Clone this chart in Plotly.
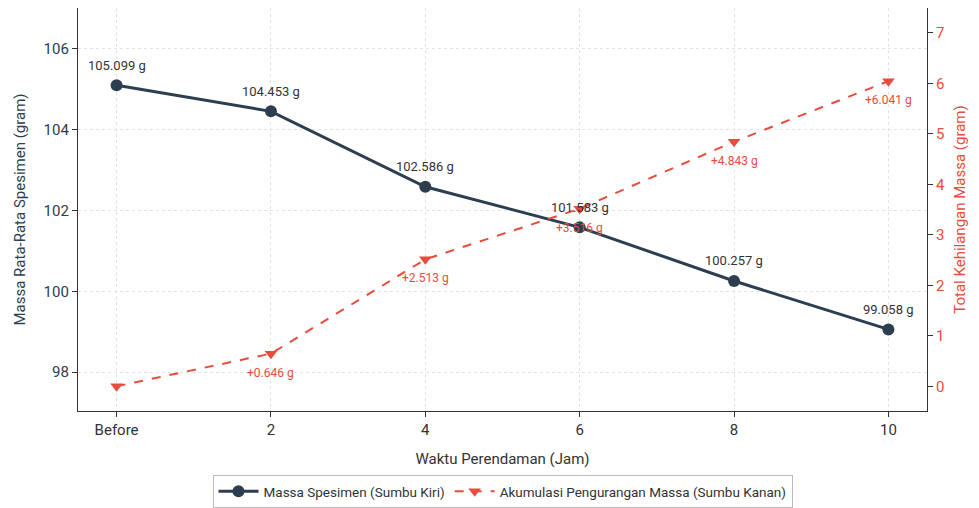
import plotly.graph_objects as go

categories = ["Before", "2", "4", "6", "8", "10"]
mass = [105.099, 104.453, 102.586, 101.583, 100.257, 99.058]
loss = [0.0, 0.646, 2.513, 3.516, 4.843, 6.041]

NAVY = "#2C3E50"
RED = "#E74C3C"
FONT = "Roboto, Noto Sans, sans-serif"
xs = list(range(len(categories)))

fig = go.Figure()
fig.add_trace(go.Scatter(
    x=xs, y=mass, mode="lines+markers", name="Massa Spesimen (Sumbu Kiri)",
    line=dict(color=NAVY, width=3), marker=dict(symbol="circle", size=12, color=NAVY),
    yaxis="y"))
fig.add_trace(go.Scatter(
    x=xs, y=loss, mode="lines+markers", name="Akumulasi Pengurangan Massa (Sumbu Kanan)",
    line=dict(color=RED, width=2, dash="dash"), marker=dict(symbol="triangle-down", size=11, color=RED),
    yaxis="y2"))

for i, v in enumerate(mass):
    fig.add_annotation(x=xs[i], y=v, xref="x", yref="y", text=f"{v:.3f} g", showarrow=False,
                       yshift=20, font=dict(size=13, color="#333333", family=FONT))
for i, v in enumerate(loss):
    if i == 0:
        continue
    fig.add_annotation(x=xs[i], y=v, xref="x", yref="y2", text=f"+{v:.3f} g", showarrow=False,
                       yshift=-19, font=dict(size=12, color=RED, family=FONT))

grid = dict(showgrid=True, gridcolor="#E3E3E3", griddash="dot", gridwidth=1)
fig.update_layout(
    width=971, height=500, margin=dict(l=70, r=52, t=0, b=96),
    paper_bgcolor="white", plot_bgcolor="white",
    font=dict(family=FONT, size=15, color="#333333"),
    xaxis=dict(tickmode="array", tickvals=xs, ticktext=categories, range=[-0.25, 5.25],
               title=dict(text="Waktu Perendaman (Jam)", font=dict(size=15, color="#333333"), standoff=15),
               tickfont=dict(size=15),
               showline=True, linecolor="#333333", linewidth=1.2, mirror=True, automargin=False,
               ticks="outside", ticklen=5, tickcolor="#333333", zeroline=False, **grid),
    yaxis=dict(range=[97.04, 107.01], tickvals=[98, 100, 102, 104, 106],
               title=dict(text="Massa Rata-Rata Spesimen (gram)", font=dict(size=15, color=NAVY), standoff=14),
               tickfont=dict(color=NAVY, size=15), automargin=False,
               showline=True, linecolor="#333333", linewidth=1.2, mirror=True,
               ticks="outside", ticklen=5, tickcolor="#333333", zeroline=False, **grid),
    yaxis2=dict(range=[-0.49, 7.49], tickvals=list(range(0, 8)), overlaying="y", side="right",
                title=dict(text="Total Kehilangan Massa (gram)", font=dict(size=15, color=RED), standoff=10),
                tickfont=dict(color=RED, size=15), showgrid=False, zeroline=False, automargin=False,
                showline=True, linecolor="#333333", linewidth=1.2,
                ticks="outside", ticklen=5, tickcolor="#333333"),
    legend=dict(orientation="h", x=0.5, xanchor="center", y=-0.2, yanchor="middle",
                bordercolor="#BBBBBB", borderwidth=1, font=dict(size=13.5, color="#333333"),
                bgcolor="white", itemwidth=40),
    showlegend=True,
)
fig.write_html("out.html")
